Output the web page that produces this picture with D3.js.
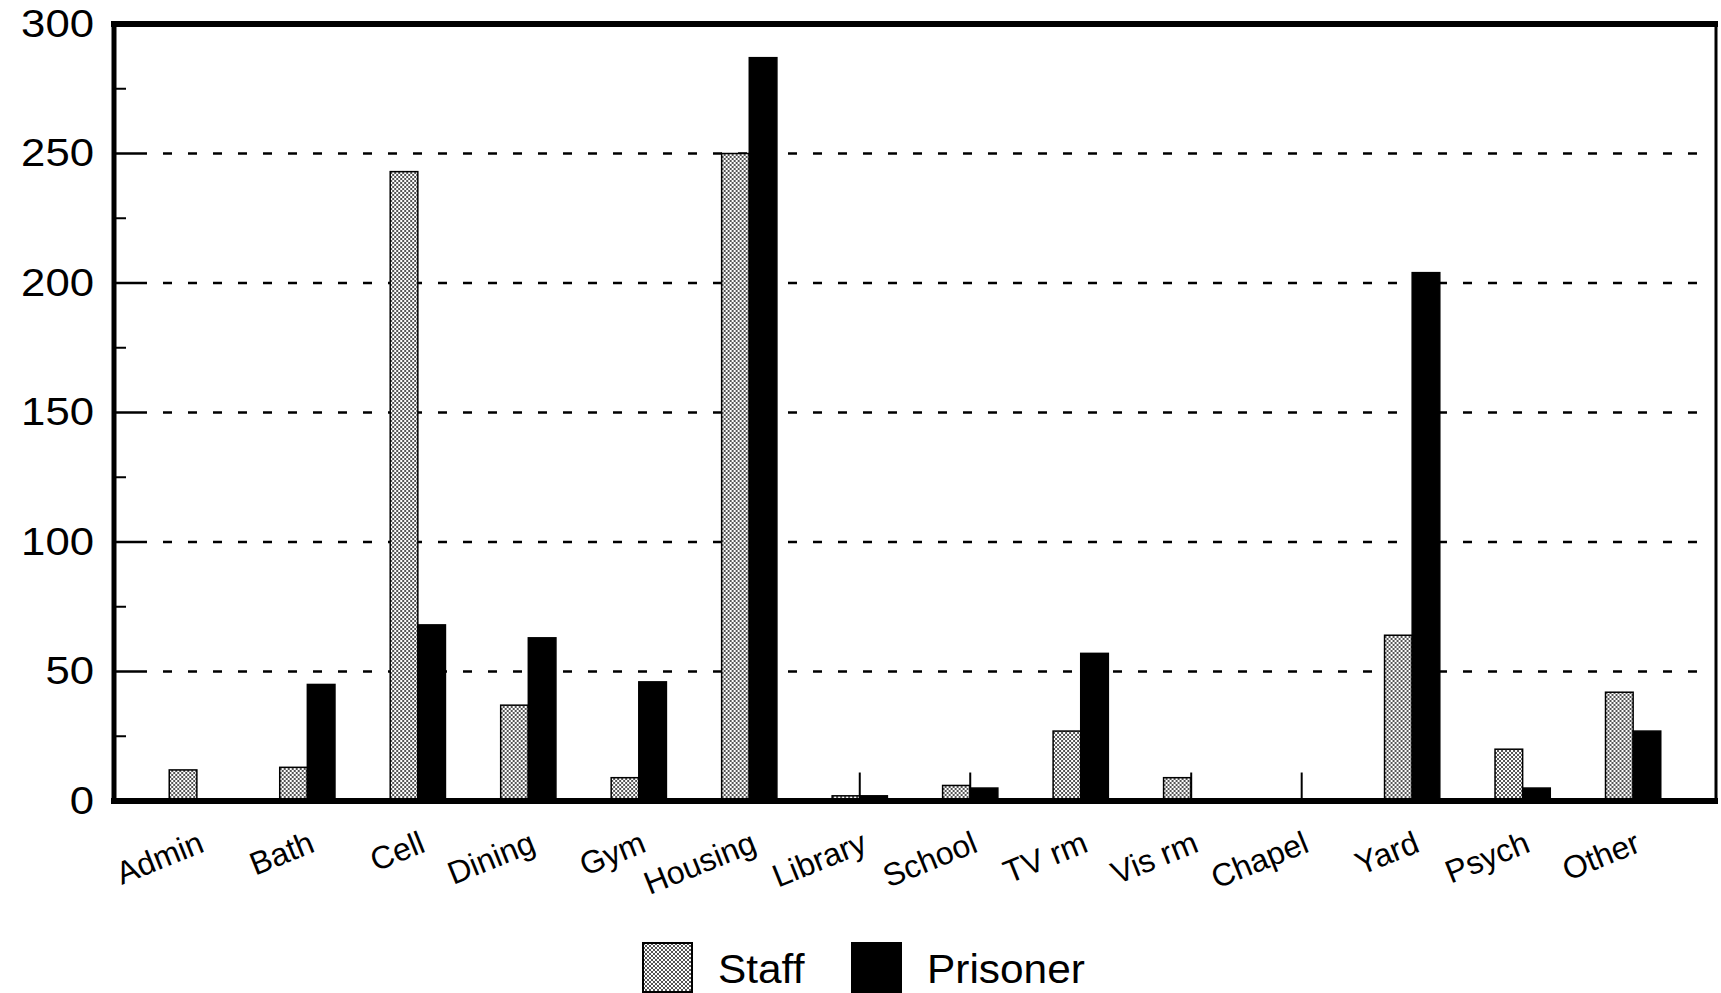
<!DOCTYPE html>
<html>
<head>
<meta charset="utf-8">
<script src="https://cdn.jsdelivr.net/npm/d3@7"></script>
<style>
	body { margin: 0; background: #fff; }
	text { font-family: 'Liberation Sans', Arial, sans-serif; fill: #000; }
</style>
</head>
<body>
<script>
// values
let categories = ['Admin', 'Bath', 'Cell', 'Dining', 'Gym', 'Housing', 'Library', 'School', 'TV rm', 'Vis rm', 'Chapel', 'Yard', 'Psych', 'Other']
let series = ['Staff', 'Prisoner']
let staff = [12, 13, 243, 37, 9, 250, 2, 6, 27, 9, 0, 64, 20, 42]
let prisoner = [0, 45, 68, 63, 46, 287, 2, 5, 57, 0, 0, 204, 5, 27]
let yTicks = [0, 50, 100, 150, 200, 250, 300]
let yMinor = [25, 75, 125, 175, 225, 275]
// thin vertical strokes that show up in the scan
let strokeCats = ['Library', 'School', 'Vis rm', 'Chapel']
let strokeVal = 11

let W = 1721, H = 993
let x0 = 114, x1 = 1716, y0 = 24, y1 = 801

let svg = d3.select('body').append('svg').attr('width', W).attr('height', H)

let defs = svg.append('defs')
let pat = defs.append('pattern').attr('id', 'dots')
	.attr('width', 4).attr('height', 4).attr('patternUnits', 'userSpaceOnUse')
pat.append('rect').attr('width', 4).attr('height', 4).attr('fill', '#fff')
pat.append('rect').attr('width', 2).attr('height', 2).attr('fill', '#555')
pat.append('rect').attr('x', 2).attr('y', 2).attr('width', 2).attr('height', 2).attr('fill', '#555')

let x = d3.scaleBand().domain(categories).range([x0, x1]).paddingInner(0.5).paddingOuter(0.5)
let xs = d3.scaleBand().domain(series).range([0, x.bandwidth()])
let y = d3.scaleLinear().domain([0, 300]).range([y1, y0])

// dashed grid
let grid = svg.append('g')
grid.selectAll('line.solid').data(yTicks.filter(d => d > 0 && d < 300)).join('line')
	.attr('x1', x0).attr('x2', x0 + 33)
	.attr('y1', d => y(d)).attr('y2', d => y(d))
	.attr('stroke', '#000').attr('stroke-width', 2.5)
grid.selectAll('line.dash').data(yTicks.filter(d => d > 0 && d < 300)).join('line')
	.attr('x1', x0 + 49).attr('x2', x1 - 3)
	.attr('y1', d => y(d)).attr('y2', d => y(d))
	.attr('stroke', '#000').attr('stroke-width', 2.5)
	.attr('stroke-dasharray', '9,16')
grid.selectAll('line.minor').data(yMinor).join('line')
	.attr('x1', x0).attr('x2', x0 + 12)
	.attr('y1', d => y(d)).attr('y2', d => y(d))
	.attr('stroke', '#000').attr('stroke-width', 2)

// bars
let vals = {Staff: staff, Prisoner: prisoner}
let groups = svg.append('g').selectAll('g').data(categories).join('g')
	.attr('transform', d => `translate(${x(d)},0)`)
groups.selectAll('rect').data((d, i) => series.map(s => ({s: s, v: vals[s][i]}))).join('rect')
	.attr('x', d => xs(d.s))
	.attr('width', xs.bandwidth())
	.attr('y', d => y(d.v))
	.attr('height', d => y(0) - y(d.v))
	.attr('fill', d => d.s == 'Staff' ? 'url(#dots)' : '#000')
	.attr('stroke', '#000').attr('stroke-width', 1.5)

svg.append('g').selectAll('line').data(strokeCats).join('line')
	.attr('x1', d => x(d) + x.bandwidth() / 2).attr('x2', d => x(d) + x.bandwidth() / 2)
	.attr('y1', y(0)).attr('y2', y(strokeVal))
	.attr('stroke', '#000').attr('stroke-width', 2)

// frame
svg.append('line').attr('x1', x0 - 3).attr('x2', x1 + 2).attr('y1', y0).attr('y2', y0)
	.attr('stroke', '#000').attr('stroke-width', 6)
svg.append('line').attr('x1', x0).attr('x2', x0).attr('y1', y0 - 3).attr('y2', y1 + 3)
	.attr('stroke', '#000').attr('stroke-width', 5)
svg.append('line').attr('x1', x1).attr('x2', x1).attr('y1', y0).attr('y2', y1)
	.attr('stroke', '#000').attr('stroke-width', 3)
svg.append('line').attr('x1', x0 - 3).attr('x2', x1 + 2).attr('y1', y1).attr('y2', y1)
	.attr('stroke', '#000').attr('stroke-width', 6)

// y labels
svg.append('g').selectAll('text').data(yTicks).join('text')
	.attr('transform', d => `translate(94,${y(d)}) scale(1.15,1)`)
	.attr('text-anchor', 'end').attr('dominant-baseline', 'central')
	.style('font-size', '38px')
	.text(d => d)

// x labels
svg.append('g').selectAll('text').data(categories).join('text')
	.attr('transform', d => `translate(${x(d) + x.bandwidth() / 2 + 9},851) rotate(-22)`)
	.attr('text-anchor', 'end')
	.style('font-size', '32px')
	.text(d => d)

// legend
let legX = [643, 852]
let leg = svg.append('g').selectAll('g').data(series).join('g')
	.attr('transform', (d, i) => `translate(${legX[i]},943)`)
leg.append('rect').attr('width', 49).attr('height', 49)
	.attr('fill', d => d == 'Staff' ? 'url(#dots)' : '#000')
	.attr('stroke', '#000').attr('stroke-width', 2)
leg.append('text').attr('transform', 'translate(75,40) scale(1.06,1)')
	.style('font-size', '40px')
	.text(d => d)
</script>
</body>
</html>
